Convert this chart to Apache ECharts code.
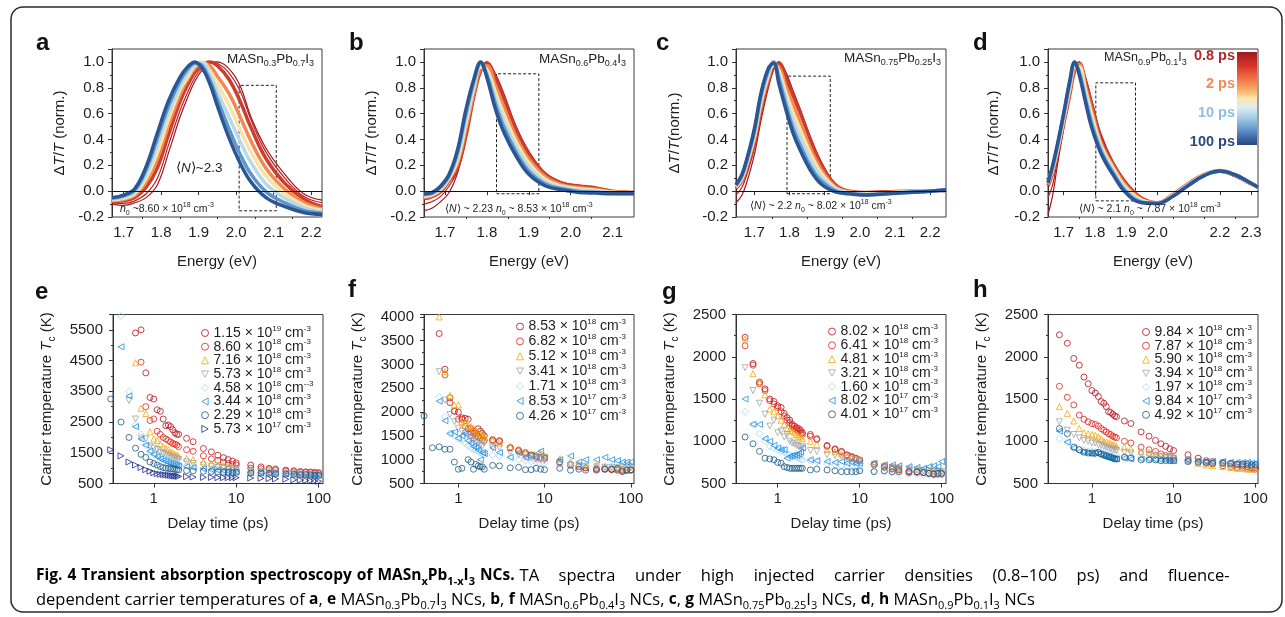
<!DOCTYPE html>
<html>
<head>
<meta charset="utf-8">
<script src="https://cdn.jsdelivr.net/npm/echarts@6/dist/echarts.min.js"></script>
<style>
html, body { margin: 0; padding: 0; background: #fff; }
#main { width: 1285px; height: 617px; }
</style>
</head>
<body>
<div id="main"></div>
<script>
// ---- spectra (a-d): delays, energies, normalised dT/T ----
var specDelays = ['0.8 ps', '0.9 ps', '1.2 ps', '2 ps', '4 ps', '10 ps', '30 ps', '100 ps'];
var specColors = ['#a3141c', '#b81f24', '#cf3b2d', '#f08a50', '#fbe2a6', '#b7d9ec', '#5f95c8', '#2a5694'];
var specWidths = [1.2, 1.2, 3.5, 3.5, 3.5, 3.5, 3.5, 3.5];

var energyA = [1.669, 1.70, 1.73, 1.76, 1.79, 1.82, 1.85, 1.87, 1.89, 1.91, 1.93, 1.95, 1.98, 2.01, 2.04, 2.08, 2.13, 2.18, 2.229];
var specA = [
  [-0.10, -0.11, -0.09, -0.05, 0.05, 0.30, 0.57, 0.72, 0.85, 0.94, 0.99, 1.0, 0.95, 0.82, 0.57, 0.33, 0.13, -0.02, -0.07],
  [-0.09, -0.095, -0.075, -0.02, 0.10, 0.36, 0.62, 0.76, 0.88, 0.96, 1.0, 0.99, 0.92, 0.78, 0.55, 0.30, 0.10, -0.04, -0.09],
  [-0.08, -0.075, -0.05, 0.03, 0.18, 0.44, 0.69, 0.82, 0.92, 0.98, 1.0, 0.97, 0.87, 0.70, 0.49, 0.25, 0.06, -0.06, -0.12],
  [-0.072, -0.064, -0.032, 0.07, 0.25, 0.51, 0.74, 0.86, 0.95, 0.99, 0.97, 0.89, 0.76, 0.58, 0.385, 0.175, 0.015, -0.086, -0.135],
  [-0.066, -0.055, -0.018, 0.10, 0.30, 0.56, 0.78, 0.88, 0.97, 1.0, 0.93, 0.83, 0.67, 0.48, 0.30, 0.115, -0.02, -0.107, -0.147],
  [-0.06, -0.046, -0.005, 0.13, 0.36, 0.61, 0.81, 0.91, 0.98, 0.99, 0.90, 0.77, 0.58, 0.39, 0.22, 0.055, -0.055, -0.128, -0.159],
  [-0.055, -0.037, 0.01, 0.166, 0.41, 0.66, 0.85, 0.94, 0.99, 0.97, 0.86, 0.71, 0.49, 0.29, 0.13, -0.005, -0.09, -0.15, -0.17],
  [-0.05, -0.03, 0.02, 0.19, 0.45, 0.70, 0.88, 0.96, 1.0, 0.95, 0.83, 0.66, 0.42, 0.22, 0.07, -0.05, -0.12, -0.165, -0.18]
];

var energyB = [1.65, 1.67, 1.69, 1.71, 1.73, 1.75, 1.77, 1.785, 1.80, 1.82, 1.84, 1.87, 1.90, 1.94, 1.98, 2.02, 2.06, 2.10, 2.151];
var specB = [
  [-0.15, -0.13, -0.08, -0.01, 0.14, 0.40, 0.74, 0.92, 1.0, 0.91, 0.76, 0.50, 0.31, 0.14, 0.07, 0.045, 0.03, 0.0, -0.01],
  [-0.10, -0.08, -0.04, 0.04, 0.16, 0.42, 0.75, 0.93, 1.0, 0.90, 0.74, 0.48, 0.30, 0.135, 0.065, 0.04, 0.028, 0.0, -0.01],
  [-0.06, -0.04, -0.005, 0.08, 0.18, 0.43, 0.75, 0.93, 0.99, 0.88, 0.72, 0.47, 0.29, 0.13, 0.06, 0.04, 0.025, 0.0, -0.01],
  [-0.05, -0.032, 0.006, 0.09, 0.215, 0.48, 0.78, 0.95, 0.97, 0.82, 0.655, 0.42, 0.25, 0.11, 0.048, 0.028, 0.015, -0.005, -0.012],
  [-0.04, -0.026, 0.015, 0.10, 0.24, 0.52, 0.81, 0.96, 0.94, 0.77, 0.60, 0.38, 0.22, 0.09, 0.038, 0.018, 0.007, -0.009, -0.015],
  [-0.03, -0.02, 0.024, 0.11, 0.27, 0.56, 0.835, 0.98, 0.92, 0.72, 0.55, 0.34, 0.19, 0.07, 0.028, 0.008, -0.001, -0.013, -0.017],
  [-0.025, -0.015, 0.033, 0.12, 0.30, 0.60, 0.86, 0.99, 0.90, 0.68, 0.50, 0.30, 0.155, 0.055, 0.018, -0.003, -0.009, -0.017, -0.019],
  [-0.02, -0.01, 0.04, 0.13, 0.32, 0.63, 0.88, 1.0, 0.88, 0.64, 0.46, 0.27, 0.13, 0.04, 0.01, -0.01, -0.015, -0.02, -0.02]
];

var energyC = [1.648, 1.665, 1.68, 1.70, 1.72, 1.74, 1.755, 1.77, 1.79, 1.81, 1.83, 1.86, 1.89, 1.93, 1.97, 2.02, 2.08, 2.14, 2.20, 2.245];
var specC = [
  [-0.09, -0.03, 0.08, 0.28, 0.56, 0.80, 0.94, 1.0, 0.92, 0.78, 0.64, 0.42, 0.23, 0.06, 0.005, -0.005, 0.0, 0.0, 0.0, 0.0],
  [-0.03, 0.03, 0.14, 0.33, 0.60, 0.83, 0.95, 1.0, 0.90, 0.76, 0.62, 0.40, 0.22, 0.055, 0.0, -0.01, -0.005, 0.0, 0.0, 0.0],
  [0.02, 0.08, 0.19, 0.37, 0.64, 0.85, 0.96, 0.99, 0.87, 0.74, 0.61, 0.39, 0.21, 0.05, 0.0, -0.01, -0.005, 0.0, 0.0, 0.0],
  [0.028, 0.09, 0.21, 0.40, 0.67, 0.875, 0.97, 0.96, 0.81, 0.67, 0.54, 0.33, 0.17, 0.036, -0.005, -0.015, -0.009, -0.003, 0.0, 0.003],
  [0.034, 0.10, 0.22, 0.42, 0.70, 0.895, 0.98, 0.93, 0.76, 0.61, 0.48, 0.29, 0.14, 0.025, -0.009, -0.019, -0.012, -0.005, 0.0, 0.005],
  [0.04, 0.11, 0.235, 0.44, 0.72, 0.915, 0.99, 0.90, 0.71, 0.55, 0.42, 0.24, 0.11, 0.014, -0.013, -0.023, -0.015, -0.007, 0.0, 0.006],
  [0.045, 0.12, 0.25, 0.46, 0.75, 0.935, 1.0, 0.87, 0.67, 0.49, 0.36, 0.19, 0.08, 0.003, -0.017, -0.027, -0.018, -0.009, 0.0, 0.008],
  [0.05, 0.13, 0.26, 0.48, 0.77, 0.95, 0.99, 0.83, 0.63, 0.45, 0.32, 0.16, 0.055, -0.005, -0.02, -0.03, -0.02, -0.01, 0.0, 0.01]
];

var energyD = [1.65, 1.665, 1.68, 1.70, 1.72, 1.735, 1.75, 1.77, 1.79, 1.82, 1.86, 1.90, 1.95, 2.00, 2.05, 2.10, 2.15, 2.20, 2.25, 2.29, 2.322];
var specD = [
  [-0.18, -0.03, 0.20, 0.48, 0.74, 0.92, 1.0, 0.88, 0.70, 0.44, 0.22, 0.07, -0.05, -0.085, -0.03, 0.05, 0.12, 0.145, 0.11, 0.06, 0.03],
  [-0.05, 0.05, 0.24, 0.50, 0.75, 0.93, 1.0, 0.87, 0.69, 0.42, 0.21, 0.065, -0.05, -0.088, -0.028, 0.055, 0.125, 0.15, 0.115, 0.065, 0.03],
  [0.04, 0.14, 0.29, 0.52, 0.75, 0.93, 0.99, 0.85, 0.67, 0.40, 0.205, 0.06, -0.055, -0.09, -0.025, 0.06, 0.13, 0.155, 0.12, 0.07, 0.035],
  [0.05, 0.155, 0.31, 0.54, 0.78, 0.95, 0.98, 0.81, 0.625, 0.37, 0.185, 0.04, -0.064, -0.091, -0.029, 0.056, 0.128, 0.16, 0.125, 0.072, 0.034],
  [0.07, 0.17, 0.32, 0.56, 0.80, 0.96, 0.96, 0.78, 0.59, 0.35, 0.17, 0.025, -0.07, -0.092, -0.032, 0.053, 0.126, 0.158, 0.123, 0.073, 0.033],
  [0.09, 0.18, 0.335, 0.57, 0.82, 0.975, 0.94, 0.75, 0.55, 0.33, 0.15, 0.01, -0.078, -0.093, -0.035, 0.05, 0.124, 0.156, 0.124, 0.074, 0.032],
  [0.08, 0.19, 0.35, 0.59, 0.84, 0.99, 0.92, 0.71, 0.52, 0.31, 0.135, -0.004, -0.085, -0.094, -0.038, 0.047, 0.122, 0.155, 0.125, 0.075, 0.031],
  [0.065, 0.2, 0.36, 0.6, 0.86, 1.0, 0.9, 0.69, 0.49, 0.29, 0.12, -0.015, -0.09, -0.095, -0.04, 0.045, 0.12, 0.155, 0.125, 0.075, 0.03]
];

// dashed boxes [x1, x2, y1, y2] and axis ticks
var boxA = [2.008, 2.107, -0.152, 0.819];
var boxB = [1.823, 1.924, -0.02, 0.908];
var boxC = [1.793, 1.916, -0.02, 0.89];
var boxD = [1.803, 1.93, -0.075, 0.838];
var ticksA = [1.7, 1.8, 1.9, 2.0, 2.1, 2.2];
var ticksB = [1.7, 1.8, 1.9, 2.0, 2.1];
var ticksC = [1.7, 1.8, 1.9, 2.0, 2.1, 2.2];
var ticksD = [1.7, 1.8, 1.9, 2.0, 2.1, 2.2, 2.3];
var labelsD = [1.7, 1.8, 1.9, 2.0, 2.2, 2.3];
var minorA = [1.75, 1.85, 1.95, 2.05, 2.15];
var minorB = [1.75, 1.85, 1.95, 2.05];
var minorC = [1.75, 1.85, 1.95, 2.05, 2.15];
var minorD = [1.75, 1.85, 1.95, 2.05, 2.15, 2.25];

// ---- carrier temperatures (e-h) ----
var delayT = [0.3, 0.4, 0.5, 0.6, 0.7, 0.8, 0.9, 1.0, 1.1, 1.2, 1.3, 1.4, 1.5, 1.6, 1.7, 1.8, 1.9, 2.0, 2.5, 3, 4, 5, 6, 7, 8, 9, 10, 15, 20, 25, 30, 40, 50, 60, 70, 80, 90, 100];

var mantE = ['1.15', '8.60', '7.16', '5.73', '4.58', '3.44', '2.29', '5.73'];
var expE = ['19', '18', '18', '18', '18', '18', '18', '17'];
var unitExpE = ['-3', '-3', '-3', '-3', '--3', '-3', '-3', '-3'];
var tempE = [
  [null, null, null, 5400, 5500, 4100, 3300, 3250, 2900, 2850, 2600, 2380, 2400, 2350, 2250, 2150, 2100, 2100, 1970, 1860, 1640, 1530, 1420, 1340, 1280, 1230, 1170, 1100, 1040, 990, 970, 935, 915, 890, 880, 870, 860, 850],
  [null, null, null, null, 4450, 3000, 2550, 2600, 2200, 2100, 2000, 1950, 1900, 1850, 1800, 1780, 1750, 1700, 1600, 1550, 1400, 1300, 1250, 1200, 1150, 1120, 1100, 1000, 980, 950, 930, 900, 880, 870, 860, 850, 840, 830],
  [null, null, null, 4430, 2950, 2780, 2180, 1950, 1900, 1780, 1700, 1650, 1600, 1520, 1500, 1450, 1420, 1380, 1320, 1280, 1200, 1150, 1100, 1080, 1050, 1030, 1000, 950, 920, 900, 880, 860, 840, 830, 820, 810, 800, 800],
  [null, null, 3200, 2600, 1980, 1950, 1700, 1650, 1600, 1520, 1480, 1450, 1400, 1380, 1350, 1330, 1300, 1280, 1200, 1150, 1100, 1050, 1020, 1000, 980, 970, 950, 900, 880, 860, 850, 830, 820, 810, 800, 790, 780, 780],
  [null, 5950, 3500, 2400, 2100, 1750, 1550, 1450, 1400, 1350, 1320, 1300, 1250, 1220, 1200, 1180, 1150, 1130, 1080, 1050, 1000, 970, 950, 930, 920, 910, 900, 880, 860, 850, 840, 820, 810, 800, 790, 790, 780, 770],
  [null, 4950, 3350, 2350, 1950, 1750, 1550, 1450, 1380, 1300, 1250, 1220, 1180, 1150, 1130, 1100, 1080, 1060, 1050, 1020, 980, 950, 930, 920, 900, 890, 880, 860, 850, 840, 830, 820, 800, 800, 790, 780, 780, 770],
  [3250, 2500, 2000, 1650, 1450, 1350, 1200, 1150, 1100, 1050, 1020, 1000, 990, 980, 970, 960, 950, 940, 920, 910, 900, 890, 880, 870, 870, 860, 860, 850, 840, 830, 820, 810, 800, 790, 790, 780, 770, 760],
  [1600, 1400, 1200, 1100, 1020, 950, 900, 850, 820, 800, 790, 780, 770, 760, 750, 740, 740, 730, 720, 710, 700, 700, 690, 690, 690, 690, 690, 680, 670, 660, 650, 640, 620, 610, 600, 590, 580, 570]
];

var mantF = ['8.53', '6.82', '5.12', '3.41', '1.71', '8.53', '4.26'];
var expF = ['18', '18', '18', '18', '18', '17', '17'];
var tempF = [
  [null, null, null, 3650, 2900, 2200, 2020, 2000, 1880, 1870, 1850, 1650, 1600, 1560, 1650, 1600, 1550, 1500, 1420, 1400, 1250, 1200, 1150, 1100, 1080, 1050, 1040, 950, 880, 850, 830, 800, 800, 790, 780, 760, 780, 780],
  [null, null, null, null, 2780, 2300, 2020, 1850, 1850, 1700, 1650, 1580, 1550, 1500, 1480, 1450, 1420, 1400, 1400, 1380, 1250, 1180, 1120, 1080, 1050, 1030, 1020, 950, 900, 860, 830, 820, 810, 800, 800, 790, 780, 780],
  [null, null, null, 4000, 2850, 2350, 2150, 2150, 1800, 1780, 1720, 1700, 1650, 1600, 1580, 1550, 1500, 1480, 1400, 1350, 1280, 1220, 1150, 1120, 1100, 1150, 1080, 1020, 950, 900, 880, 880, 860, 850, 830, 820, 830, 850],
  [null, null, null, 2850, 2250, 1950, 1800, 1650, 1600, 1550, 1500, 1450, 1400, 1380, 1350, 1300, 1280, 1350, 1250, 1250, 1150, 1100, 1050, 1030, 1000, 1000, 980, 920, 880, 870, 860, 850, 840, 840, 830, 830, 830, 840],
  [null, null, null, 2320, 1900, 1550, 1500, 1450, 1400, 1350, 1300, 1250, 1220, 1200, 1180, 1150, 1130, 1100, 1100, 1080, 1050, 1000, 980, 960, 950, 940, 930, 900, 880, 860, 850, 850, 850, 850, 850, 860, 870, 880],
  [null, null, null, 2230, 1820, 1550, 1580, 1450, 1500, 1550, 1400, 1350, 1280, 1250, 1200, 1000, 1150, 1130, 1250, 1150, 1050, 1150, 1050, 1100, 1050, 1180, 1050, 1000, 1080, 950, 1000, 1000, 1050, 1000, 980, 950, 950, 950],
  [null, 1920, 1250, 1270, 1220, 1220, 950, 800, 820, null, 1000, 950, 800, 900, 870, 850, 850, 800, 880, 870, 830, 840, 790, 790, 820, 800, 790, 820, 780, 800, 780, 780, 800, 800, 820, 750, 780, 790]
];

var mantG = ['8.02', '6.41', '4.81', '3.21', '1.60', '8.02', '4.01'];
var expG = ['18', '18', '18', '18', '18', '17', '17'];
var tempG = [
  [null, 2230, 1920, 1700, 1620, 1500, 1470, 1420, 1400, 1330, 1280, 1250, 1200, 1180, 1160, 1150, 1130, 1100, 1080, 1030, 950, 910, 880, 840, 820, 800, 780, 730, 700, 680, 670, 650, 640, 630, 620, 620, 620, 620],
  [null, 2130, 1900, 1680, 1600, 1480, 1440, 1400, 1350, 1300, 1250, 1220, 1180, 1150, 1140, 1120, 1100, 1080, 1060, 1020, 940, 900, 870, 830, 810, 790, 770, 720, 690, 670, 660, 640, 630, 630, 620, 610, 610, 610],
  [null, 2210, 1800, 1690, 1550, 1380, 1350, 1300, 1250, 1200, 1150, 1130, 1120, 1100, 1080, 1060, 1050, 1030, 1000, 960, 900, 880, 850, 820, 800, 790, 770, 740, 720, 700, 690, 680, 670, 660, 650, 650, 650, 650],
  [null, 1870, 1600, 1450, 1320, 1180, 1250, 1100, 1120, 1050, 1080, 1000, 980, 970, 950, 940, 920, 940, 890, 880, 840, 830, 820, 800, 790, 780, 770, 720, 700, 690, 680, 670, 660, 650, 650, 640, 640, 640],
  [null, 1350, 1200, 1090, 1000, 940, 920, 900, 880, 870, 850, 840, 830, 820, 810, 800, 790, 780, 770, 760, 730, 720, 710, 700, 690, 680, 670, 650, 640, 630, 620, 610, 610, 600, 600, 600, 600, 600],
  [null, 1500, 1200, 1200, 1030, 1000, 950, 920, 900, 900, 800, 820, 830, 840, 830, 850, 870, 920, 780, 770, 760, 750, 760, 740, 750, 740, 740, 740, 720, 720, 710, 700, 690, 680, 700, 710, 700, 760],
  [null, 1050, 970, 880, 800, 790, 780, 750, 740, 700, 690, 680, 680, 680, 680, 680, 680, 680, 660, 670, 660, 650, 640, 640, 640, 640, 650, 640, 650, 640, 640, 630, 640, 630, 620, 610, 620, 620]
];

var mantH = ['9.84', '7.87', '5.90', '3.94', '1.97', '9.84', '4.92'];
var expH = ['18', '18', '18', '18', '18', '17', '17'];
var tempH = [
  [null, 2260, 2160, 1980, 1900, 1760, 1680, 1600, 1570, 1530, 1470, 1450, 1410, 1350, 1340, 1320, 1300, 1290, 1240, 1210, 1110, 1060, 1010, 970, 940, 910, 890, 840, 800, 770, 760, 750, 730, 720, 710, 700, 690, 690],
  [null, 1650, 1520, 1430, 1310, 1260, 1230, 1210, 1200, 1180, 1150, 1130, 1110, 1090, 1080, 1060, 1050, 1040, 1000, 980, 930, 900, 880, 850, 830, 820, 800, 780, 760, 740, 730, 710, 700, 690, 690, 680, 680, 670],
  [null, 1410, 1330, 1240, 1150, 1100, 1090, 1080, 1070, 1050, 1030, 1000, 990, 980, 970, 960, 950, 940, 930, 910, 880, 870, 850, 830, 820, 810, 800, 770, 740, 720, 710, 700, 690, 680, 680, 670, 670, 670],
  [null, 1230, 1130, 1080, 1040, 1010, 1000, 980, 980, 960, 950, 940, 930, 920, 910, 900, 900, 890, 870, 860, 850, 840, 830, 820, 810, 800, 800, 780, 760, 750, 740, 730, 720, 720, 710, 710, 700, 700],
  [null, 1030, 990, 920, 900, 890, 880, 880, 870, 870, 860, 860, 850, 850, 850, 840, 840, 840, 820, 820, 810, 800, 800, 790, 790, 790, 780, 770, 760, 750, 750, 740, 740, 730, 730, 730, 730, 720],
  [null, 1120, 990, 920, 880, 870, 860, 850, 860, 850, 830, 820, 810, 810, 800, 800, 790, 790, 800, 790, 790, 790, 780, 780, 780, 770, 770, 780, 770, 760, 760, 760, 750, 750, 750, 750, 740, 740],
  [null, 1150, 1090, 930, 900, 870, 860, 860, 860, 870, 850, 840, 830, 820, 810, 800, 790, 790, 810, 800, 780, 780, 780, 770, 770, 770, 770, 760, 750, 750, 740, 740, 740, 730, 730, 730, 720, 720]
];

// marker style per density rank (highest first)
var markColors = ['#b5121b', '#e3231c', '#f5a800', '#a3a3a3', '#a8d5f2', '#1f8fe6', '#1b5a86', '#1c2a8c'];
var markSymbols = ['circle', 'circle', 'triangle', 'path://M0,0L10,0L5,9Z', 'diamond',
  'path://M9,0L0,5L9,10Z', 'circle', 'path://M0,0L9,5L0,10Z'];

// caption words (line 1 is stretched to the full width)
var capBoldWords = ['Fig.', '4', 'Transient', 'absorption', 'spectroscopy', 'of',
  'MASn}{bs|x}{b|Pb}{bs|1-x}{b|I}{bs|3}{b|', 'NCs.'];
var capNormWords = ['TA', 'spectra', 'under', 'high', 'injected', 'carrier', 'densities', '(0.8–100', 'ps)', 'and', 'fluence-'];
var capLine2 = '{n|dependent carrier temperatures of }{b|a}{n|, }{b|e}{n| MASn}{ns|0.3}{n|Pb}{ns|0.7}{n|I}{ns|3}{n| NCs, }' +
  '{b|b}{n|, }{b|f}{n| MASn}{ns|0.6}{n|Pb}{ns|0.4}{n|I}{ns|3}{n| NCs, }' +
  '{b|c}{n|, }{b|g}{n| MASn}{ns|0.75}{n|Pb}{ns|0.25}{n|I}{ns|3}{n| NCs, }' +
  '{b|d}{n|, }{b|h}{n| MASn}{ns|0.9}{n|Pb}{ns|0.1}{n|I}{ns|3}{n| NCs}';

var FONT = "'Liberation Sans', Arial, Helvetica, sans-serif";
var CAPFONT = "'Open Sans', 'Noto Sans', sans-serif";
var INK = '#1e1e1e';

var grids = [], xAxes = [], yAxes = [], series = [], legends = [], graphics = [];

function txtRich(size) {
  var lh = Math.round(size * 1.4);
  var small = Math.round(size * 0.68);
  return {
    t: { fontSize: size, fontFamily: FONT, color: INK, lineHeight: lh },
    i: { fontSize: size, fontFamily: FONT, color: INK, fontStyle: 'italic', lineHeight: lh },
    sb: { fontSize: small, fontFamily: FONT, color: INK, lineHeight: 5, verticalAlign: 'bottom' },
    sp: { fontSize: small, fontFamily: FONT, color: INK, lineHeight: 5, verticalAlign: 'top' }
  };
}

function addText(x, y, text, size, align) {
  graphics.push({
    type: 'text', z: 50, silent: true,
    style: { x: x, y: y, text: text, align: align || 'left', verticalAlign: 'middle', rich: txtRich(size), fontSize: size, fontFamily: FONT, fill: INK }
  });
}

// ---------- top row ----------
var topPanels = [
  { left: 112, energy: energyA, spec: specA, xr: [1.669, 2.229], ticks: ticksA, labels: ticksA, minor: minorA, box: boxA,
    nameGap: 42, yName: '{n|Δ}{i|T}{n|/}{i|T}{n| (norm.)}' },
  { left: 424, energy: energyB, spec: specB, xr: [1.65, 2.151], ticks: ticksB, labels: ticksB, minor: minorB, box: boxB,
    nameGap: 42, yName: '{n|Δ}{i|T}{n|/}{i|T}{n| (norm.)}' },
  { left: 736, energy: energyC, spec: specC, xr: [1.648, 2.245], ticks: ticksC, labels: ticksC, minor: minorC, box: boxC,
    nameGap: 51, yName: '{n|Δ}{i|T}{n|/}{i|T}{n|(norm.)}' },
  { left: 1048, energy: energyD, spec: specD, xr: [1.65, 2.322], ticks: ticksD, labels: labelsD, minor: minorD, box: boxD,
    nameGap: 44, yName: '{n|Δ}{i|T}{n|/}{i|T}{n| (norm.)}' }
];

var axisInk = { color: '#333', width: 1 };
var nameRich = {
  n: { fontSize: 15, fontFamily: FONT, color: INK, lineHeight: 20 },
  i: { fontSize: 15, fontFamily: FONT, color: INK, fontStyle: 'italic', lineHeight: 20 },
  s: { fontSize: 10, fontFamily: FONT, color: INK, lineHeight: 6, verticalAlign: 'bottom' }
};

topPanels.forEach(function (p, k) {
  var g = grids.length;
  grids.push({ left: p.left, top: 49, width: 210, height: 168, show: true, borderColor: '#3a3a3a', borderWidth: 1 });
  var xi = xAxes.length, yi = yAxes.length;
  xAxes.push({
    gridIndex: g, type: 'value', min: p.xr[0], max: p.xr[1], position: 'bottom',
    axisLine: { show: true, lineStyle: axisInk },
    axisTick: { show: true, length: 4, customValues: p.ticks, lineStyle: axisInk },
    axisLabel: { customValues: p.labels, fontSize: 15, fontFamily: FONT, color: INK, margin: 8,
      formatter: function (v) { return v.toFixed(1); } },
    splitLine: { show: false },
    name: 'Energy (eV)', nameLocation: 'middle', nameGap: 37,
    nameTextStyle: { fontSize: 15, fontFamily: FONT, color: INK }
  });
  // second axis only to carry the short minor ticks at the bottom edge
  xAxes.push({
    gridIndex: g, type: 'value', min: p.xr[0], max: p.xr[1], position: 'top', offset: -168,
    axisLine: { show: false }, axisLabel: { show: false }, splitLine: { show: false },
    axisTick: { show: true, inside: true, length: 2, customValues: p.minor, lineStyle: axisInk }
  });
  yAxes.push({
    gridIndex: g, type: 'value', min: -0.2, max: 1.1, interval: 0.2,
    axisLine: { show: true, lineStyle: axisInk },
    axisTick: { show: true, length: 4, lineStyle: axisInk },
    minorTick: { show: true, splitNumber: 2, length: 2, lineStyle: axisInk },
    splitLine: { show: false },
    axisLabel: { fontSize: 15, fontFamily: FONT, color: INK, margin: 8, showMaxLabel: false,
      formatter: function (v) { return v.toFixed(1); } },
    name: p.yName, nameLocation: 'middle', nameGap: p.nameGap, nameRotate: 90,
    nameTextStyle: { fontSize: 15, fontFamily: FONT, color: INK, rich: nameRich }
  });
  p.spec.forEach(function (vals, i) {
    var s = {
      type: 'line', name: 'spec-' + k + '-' + specDelays[i], xAxisIndex: xi, yAxisIndex: yi,
      data: p.energy.map(function (e, j) { return [e, vals[j]]; }),
      smooth: 0.4, showSymbol: false, symbol: 'none', silent: true,
      lineStyle: { color: specColors[i], width: specWidths[i] }
    };
    if (i === p.spec.length - 1) {
      s.markLine = {
        silent: true, symbol: ['none', 'none'], label: { show: false },
        lineStyle: { color: '#111', width: 1, type: 'solid' },
        data: [{ yAxis: 0 }]
      };
      s.markArea = {
        silent: true,
        itemStyle: { color: 'rgba(0,0,0,0)', borderColor: '#222', borderWidth: 1, borderType: [3, 2] },
        data: [[{ xAxis: p.box[0], yAxis: p.box[2] }, { xAxis: p.box[1], yAxis: p.box[3] }]]
      };
    }
    series.push(s);
  });
});

// ---------- bottom row ----------
var bottomPanels = [
  { left: 113, temps: tempE, mant: mantE, exps: expE, unit: unitExpE, xr: [0.32, 113], yr: [500, 6000], yInt: 1000, showMax: false,
    lLeft: 196, lTop: 319.5, lGap: -1.8 },
  { left: 424, temps: tempF, mant: mantF, exps: expF, unit: null, xr: [0.4, 109], yr: [500, 4050], yInt: 500, showMax: false,
    lLeft: 511, lTop: 313, lGap: -0.6 },
  { left: 736, temps: tempG, mant: mantG, exps: expG, unit: null, xr: [0.31, 113], yr: [500, 2500], yInt: 500, showMax: true,
    lLeft: 823, lTop: 318, lGap: -1.7 },
  { left: 1048, temps: tempH, mant: mantH, exps: expH, unit: null, xr: [0.29, 108], yr: [500, 2500], yInt: 500, showMax: true,
    lLeft: 1137, lTop: 318.5, lGap: -1.7 }
];

var legendLabels = {};

bottomPanels.forEach(function (p, k) {
  var g = grids.length;
  grids.push({ left: p.left, top: 314.5, width: 210, height: 169, show: true, borderColor: '#3a3a3a', borderWidth: 1 });
  var xi = xAxes.length, yi = yAxes.length;
  xAxes.push({
    gridIndex: g, type: 'log', logBase: 10, min: p.xr[0], max: p.xr[1],
    axisLine: { show: true, lineStyle: axisInk },
    axisTick: { show: true, length: 4, lineStyle: axisInk },
    axisLabel: { fontSize: 15, fontFamily: FONT, color: INK, margin: 8, showMinLabel: false, showMaxLabel: false },
    splitLine: { show: false },
    name: 'Delay time (ps)', nameLocation: 'middle', nameGap: 33,
    nameTextStyle: { fontSize: 15, fontFamily: FONT, color: INK }
  });
  yAxes.push({
    gridIndex: g, type: 'value', min: p.yr[0], max: p.yr[1], interval: p.yInt,
    axisLine: { show: true, lineStyle: axisInk },
    axisTick: { show: true, length: 4, lineStyle: axisInk },
    minorTick: { show: true, splitNumber: 2, length: 2, lineStyle: axisInk },
    splitLine: { show: false },
    axisLabel: { fontSize: 15, fontFamily: FONT, color: INK, margin: 10, showMaxLabel: p.showMax,
      formatter: function (v) { return String(v); } },
    name: '{n|Carrier temperature }{i|T}{s|c}{n| (K)}', nameLocation: 'middle', nameGap: 56, nameRotate: 90,
    nameTextStyle: { fontSize: 15, fontFamily: FONT, color: INK, rich: nameRich }
  });
  var legendData = [];
  p.temps.forEach(function (vals, i) {
    var name = p.mant[i] + 'e' + p.exps[i];
    legendLabels[name] = '{m|' + p.mant[i] + ' × 10}{s|' + p.exps[i] + '}{m| cm}{s|' + (p.unit ? p.unit[i] : '-3') + '}';
    var pts = [];
    delayT.forEach(function (t, j) { if (vals[j] !== null) pts.push([t, vals[j]]); });
    var sty = { color: 'rgba(255,255,255,0)', borderColor: markColors[i], borderWidth: 1 };
    series.push({
      type: 'scatter', name: name, xAxisIndex: xi, yAxisIndex: yi, data: pts,
      symbol: markSymbols[i], symbolSize: i === 4 ? 7 : 6, itemStyle: sty, clip: false, silent: true
    });
    legendData.push({ name: name, icon: markSymbols[i], itemStyle: sty });
  });
  legends.push({
    left: p.lLeft, top: p.lTop, orient: 'vertical', itemWidth: 7, itemHeight: 7, itemGap: p.lGap,
    selectedMode: false, data: legendData,
    formatter: function (name) { return legendLabels[name]; },
    textStyle: {
      fontSize: 14, fontFamily: FONT, color: INK,
      rich: {
        m: { fontSize: 14, fontFamily: FONT, color: INK, lineHeight: 17 },
        s: { fontSize: 8, fontFamily: FONT, color: INK, lineHeight: 4, verticalAlign: 'top' }
      }
    }
  });
});

// ---------- annotations ----------
addText(227, 59, '{t|MASn}{sb|0.3}{t|Pb}{sb|0.7}{t|I}{sb|3}', 13.5);
addText(176, 168, '{t|⟨}{i|N}{t|⟩~2.3}', 13.5);
addText(120, 209, '{i|n}{sb|0}{t| ~8.60 × 10}{sp|18}{t| cm}{sp|-3}', 10.5);

addText(539, 59, '{t|MASn}{sb|0.6}{t|Pb}{sb|0.4}{t|I}{sb|3}', 13.5);
addText(445, 209, '{t|⟨}{i|N}{t|⟩ ~ 2.23 }{i|n}{sb|0}{t| ~ 8.53 × 10}{sp|18}{t| cm}{sp|-3}', 10.5);

addText(844, 58, '{t|MASn}{sb|0.75}{t|Pb}{sb|0.25}{t|I}{sb|3}', 13.5);
addText(750, 206, '{t|⟨}{i|N}{t|⟩ ~ 2.2 }{i|n}{sb|0}{t| ~ 8.02 × 10}{sp|18}{t| cm}{sp|-3}', 10.5);

addText(1104, 58, '{t|MASn}{sb|0.9}{t|Pb}{sb|0.1}{t|I}{sb|3}', 12.5);
addText(1079, 209, '{t|⟨}{i|N}{t|⟩ ~ 2.1 }{i|n}{sb|0}{t| ~ 7.87 × 10}{sp|18}{t| cm}{sp|-3}', 10.5);

// colour bar of panel d
graphics.push({
  type: 'rect', z: 50, silent: true,
  shape: { x: 1237, y: 52, width: 20, height: 93 },
  style: {
    fill: new echarts.graphic.LinearGradient(0, 0, 0, 1, [
      { offset: 0, color: '#9e1a1e' }, { offset: 0.15, color: '#d8342a' }, { offset: 0.3, color: '#f4764a' },
      { offset: 0.42, color: '#fbb36a' }, { offset: 0.5, color: '#fbe6b0' }, { offset: 0.6, color: '#dcecf2' },
      { offset: 0.7, color: '#a7cfe6' }, { offset: 0.82, color: '#6b9ccd' }, { offset: 0.92, color: '#3e6aa8' },
      { offset: 1, color: '#2b4679' }
    ])
  }
});
[['0.8 ps', 56, '#ad2a27'], ['2 ps', 84, '#f48a5c'], ['10 ps', 113, '#8ebee2'], ['100 ps', 142, '#2b4a7e']].forEach(function (d) {
  graphics.push({
    type: 'text', z: 50, silent: true,
    style: { x: 1235, y: d[1], text: d[0], align: 'right', verticalAlign: 'middle', fontSize: 14.5, fontWeight: 'bold', fontFamily: FONT, fill: d[2] }
  });
});

// panel letters
[['a', 36, 43], ['b', 349, 43], ['c', 656, 43], ['d', 973, 43], ['e', 35, 292], ['f', 348, 290], ['g', 662, 292], ['h', 973, 290]].forEach(function (d) {
  graphics.push({
    type: 'text', z: 50, silent: true,
    style: { x: d[1], y: d[2], text: d[0], align: 'left', verticalAlign: 'middle', fontSize: 24, fontWeight: 'bold', fontFamily: FONT, fill: '#111' }
  });
});

// caption
var capRich = {
  b: { fontSize: 15.5, fontWeight: 'bold', fontFamily: CAPFONT, color: '#111', lineHeight: 22 },
  bs: { fontSize: 11, fontWeight: 'bold', fontFamily: CAPFONT, color: '#111', lineHeight: 6, verticalAlign: 'bottom' },
  n: { fontSize: 16.5, fontFamily: CAPFONT, color: '#222', lineHeight: 22 },
  ns: { fontSize: 11, fontFamily: CAPFONT, color: '#222', lineHeight: 6, verticalAlign: 'bottom' },
  gb: { fontSize: 15.5, fontFamily: CAPFONT, width: 5, lineHeight: 22 },
  gn: { fontSize: 16.5, fontFamily: CAPFONT, width: 19.5, lineHeight: 22 }
};
var capLine1 = capBoldWords.map(function (w) { return '{b|' + w + '}'; }).join('{gb| }') + '{gb| }' +
  capNormWords.map(function (w) { return '{n|' + w + '}'; }).join('{gn| }');
graphics.push({
  type: 'text', z: 50, silent: true,
  style: { x: 36, y: 576, align: 'left', verticalAlign: 'middle', rich: capRich, text: capLine1 }
});
graphics.push({
  type: 'text', z: 50, silent: true,
  style: { x: 36, y: 600, align: 'left', verticalAlign: 'middle', rich: capRich, text: capLine2 }
});

// rounded frame round the whole figure
graphics.push({
  type: 'rect', z: 0, silent: true,
  shape: { x: 11, y: 7, width: 1271, height: 605, r: 12 },
  style: { fill: 'none', stroke: '#2a2a2a', lineWidth: 1.5 }
});

var chart = echarts.init(document.getElementById('main'));
chart.setOption({
  animation: false,
  backgroundColor: '#fff',
  grid: grids,
  xAxis: xAxes,
  yAxis: yAxes,
  legend: legends,
  series: series,
  graphic: graphics
});
</script>
</body>
</html>
